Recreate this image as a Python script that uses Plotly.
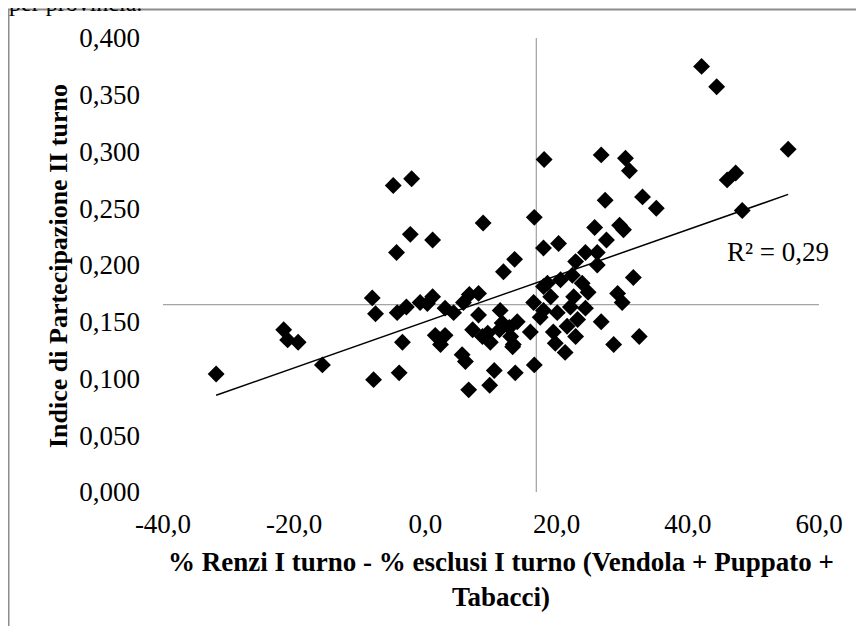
import numpy as np
import plotly.graph_objects as go

# Data
x_vals = [
    -31.9, -21.6, -21.0, -19.4, -15.7, -8.1, -7.6, -7.9, -4.9, -2.1,
    -4.4, -2.3, -4.3, -2.9, -3.5, -4.0, -0.8, 0.3, 1.1, 1.1,
    3.0, 4.3, 5.8, 6.7, 8.1, 8.8, 1.5, 3.0, 2.3, 8.1,
    9.5, 9.9, 11.4, 11.7, 13.0, 14.0, 13.4, 16.0, 5.6, 6.1,
    10.5, 9.8, 6.6, 13.7, 16.6, 16.5, 18.0, 17.5, 16.6, 18.0,
    13.6, 11.9, 7.2, 8.7, 11.3, 13.3, 12.8,
    18.1, 26.8, 30.5, 31.1, 27.4, 33.1, 35.2, 25.8, 29.6, 30.2,
    27.6, 20.3, 24.4, 26.2, 22.9, 26.2, 22.4, 31.7, 23.9, 20.6,
    18.6, 24.8, 29.3, 30.0, 22.6, 19.1, 24.4, 22.1, 20.1, 18.0,
    23.2, 21.6, 19.5, 26.8, 22.9, 19.8, 21.3, 28.7, 32.6,
    42.1, 44.4, 55.3, 46.0, 47.3, 48.3,
]
y_vals = [
    0.104, 0.143, 0.134, 0.132, 0.112, 0.171, 0.157, 0.099, 0.270, 0.276,
    0.211, 0.227, 0.158, 0.163, 0.132, 0.105, 0.167, 0.166, 0.172, 0.222,
    0.162, 0.158, 0.167, 0.174, 0.175, 0.237, 0.138, 0.138, 0.130, 0.156,
    0.140, 0.132, 0.160, 0.149, 0.137, 0.150, 0.130, 0.141, 0.121, 0.115,
    0.107, 0.094, 0.090, 0.105, 0.112, 0.167, 0.181, 0.154, 0.242, 0.215,
    0.205, 0.194, 0.143, 0.137, 0.143, 0.128, 0.145,
    0.293, 0.297, 0.294, 0.283, 0.257, 0.260, 0.250, 0.233, 0.235, 0.231,
    0.222, 0.219, 0.211, 0.211, 0.203, 0.200, 0.191, 0.189, 0.184, 0.187,
    0.184, 0.176, 0.175, 0.167, 0.172, 0.172, 0.162, 0.163, 0.158, 0.160,
    0.152, 0.146, 0.141, 0.150, 0.137, 0.131, 0.123, 0.130, 0.137,
    0.375, 0.357, 0.302, 0.275, 0.281, 0.248,
]

# Reference cross lines
cross_x = 16.9
cross_y = 0.165

x_range = [-40, 60]
y_range = [0, 0.4]
x_ticks = [-40, -20, 0, 20, 40, 60]
x_tick_labels = ["-40,0", "-20,0", "0,0", "20,0", "40,0", "60,0"]
y_ticks = [0, 0.05, 0.1, 0.15, 0.2, 0.25, 0.3, 0.35, 0.4]
y_tick_labels = ["0,000", "0,050", "0,100", "0,150", "0,200", "0,250", "0,300", "0,350", "0,400"]

r2_label = "R² = 0,29"
x_title_lines = ["% Renzi I turno - % esclusi I turno (Vendola + Puppato +", "Tabacci)"]
y_title = "Indice di Partecipazione II turno"
top_text = "per provincia."

FONT = "Liberation Serif"

# Linear trend (least squares) over the data range
slope, intercept = np.polyfit(x_vals, y_vals, 1)
tx = [min(x_vals), max(x_vals)]
ty = [intercept + slope * v for v in tx]

fig = go.Figure()

fig.add_trace(go.Scatter(x=x_range, y=[cross_y, cross_y], mode="lines",
                         line=dict(color="#8c8c8c", width=1), hoverinfo="skip"))
fig.add_trace(go.Scatter(x=[cross_x, cross_x], y=y_range, mode="lines",
                         line=dict(color="#8c8c8c", width=1), hoverinfo="skip"))
fig.add_trace(go.Scatter(x=x_vals, y=y_vals, mode="markers",
                         marker=dict(symbol="diamond", size=13, color="black",
                                     line=dict(width=0))))
fig.add_trace(go.Scatter(x=tx, y=ty, mode="lines",
                         line=dict(color="black", width=1.5), hoverinfo="skip"))

OFF = 8  # page body margin
W, H = 864 - 2 * OFF, 634 - 2 * OFF
L, T = 163 - OFF, 38 - OFF
R = W - (819 - OFF)
B = H - (492 - OFF)
pw, ph = W - L - R, H - T - B


def px_x(p):  # page pixel -> paper x
    return (p - OFF - L) / pw


def px_y(p):  # page pixel -> paper y
    return (H - B - (p - OFF)) / ph


fig.update_layout(
    width=W, height=H,
    margin=dict(l=L, r=R, t=T, b=B),
    paper_bgcolor="white", plot_bgcolor="white",
    showlegend=False,
    font=dict(family=FONT, size=27, color="black"),
    xaxis=dict(range=x_range, tickvals=x_ticks, ticktext=x_tick_labels,
               showgrid=False, zeroline=False, showline=False, ticks="",
               ticklabelstandoff=13, tickfont=dict(size=27, family=FONT)),
    yaxis=dict(range=y_range, tickvals=y_ticks, ticktext=y_tick_labels,
               showgrid=False, zeroline=False, showline=False, ticks="",
               ticklabelstandoff=22, tickfont=dict(size=27, family=FONT)),
    shapes=[dict(type="rect", xref="paper", yref="paper",
                 x0=px_x(8.5), x1=px_x(880), y0=px_y(650), y1=px_y(9.5),
                 line=dict(color="#8c8c8c", width=2), fillcolor="rgba(0,0,0,0)",
                 layer="below")],
    annotations=[
        dict(text=r2_label, xref="paper", yref="paper", x=px_x(778), y=px_y(252),
             xanchor="center", yanchor="middle", showarrow=False,
             font=dict(size=27, family=FONT)),
        dict(text="<br>".join("<b>" + s + "</b>" for s in x_title_lines),
             xref="paper", yref="paper", x=px_x(501), y=px_y(579),
             xanchor="center", yanchor="middle", showarrow=False,
             font=dict(size=27, family=FONT)),
        dict(text="<b>" + y_title + "</b>", xref="paper", yref="paper",
             x=px_x(58), y=px_y(266), xanchor="center", yanchor="middle",
             textangle=-90, showarrow=False, font=dict(size=26, family=FONT)),
        dict(text=top_text, xref="paper", yref="paper", x=px_x(7), y=px_y(3),
             xanchor="left", yanchor="middle", showarrow=False,
             font=dict(size=24, family=FONT)),
    ],
)

fig.write_html("out.html")
